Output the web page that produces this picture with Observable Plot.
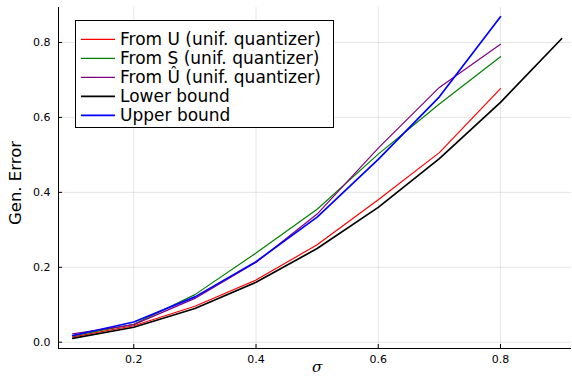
<!DOCTYPE html>
<html>
<head>
<meta charset="utf-8">
<script src="https://cdn.jsdelivr.net/npm/d3@7"></script>
<script src="https://cdn.jsdelivr.net/npm/@observablehq/plot@0.6"></script>
<style>
  html, body { margin: 0; padding: 0; background: #fff; }
  #wrap { position: relative; width: 572px; height: 376px; }
  #legend { position: absolute; left: 75px; top: 20px; }
</style>
</head>
<body>
<div id="wrap"></div>
<script>
// ---- data ----
const sigma      = [0.1, 0.2, 0.3, 0.4, 0.5, 0.6, 0.7, 0.8];
const sigmaBound = [0.1, 0.2, 0.3, 0.4, 0.5, 0.6, 0.7, 0.8, 0.9];
const fromU      = [0.014, 0.044, 0.096, 0.166, 0.260, 0.380, 0.506, 0.677];
const fromS      = [0.017, 0.048, 0.127, 0.238, 0.355, 0.502, 0.636, 0.762];
const fromUhat   = [0.022, 0.047, 0.117, 0.213, 0.342, 0.518, 0.680, 0.795];
const lowerBound = [0.010, 0.040, 0.090, 0.160, 0.250, 0.360, 0.490, 0.640, 0.810];
const upperBound = [0.018, 0.054, 0.121, 0.215, 0.334, 0.488, 0.655, 0.869];

const seriesNames  = ["From U (unif. quantizer)", "From S (unif. quantizer)", "From Û (unif. quantizer)", "Lower bound", "Upper bound"];
const seriesX      = [sigma, sigma, sigma, sigmaBound, sigma];
const seriesY      = [fromU, fromS, fromUhat, lowerBound, upperBound];
const seriesColors = ["#ff0000", "#008000", "#800080", "#000000", "#0000ff"];
const seriesWidths = [1.2, 1.2, 1.2, 1.7, 1.7];

const xTicks = [0.2, 0.4, 0.6, 0.8];
const yTicks = [0.0, 0.2, 0.4, 0.6, 0.8];
const xLabel = "σ";
const yLabel = "Gen. Error";

// ---- layout ----
const W = 572, H = 376;
const mL = 58, mR = 1, mT = 7, mB = 28;
const xDomain = [0.0768, 0.9162];
const yDomain = [-0.0168, 0.8934];
const frameW = W - mL - mR, frameH = H - mT - mB;

const tables = seriesNames.map((name, i) =>
  seriesX[i].map((x, j) => ({x, y: seriesY[i][j], name})));

const lineMarks = tables.map((t, i) =>
  Plot.line(t, {x: "x", y: "y", stroke: seriesColors[i], strokeWidth: seriesWidths[i]}));

const chart = Plot.plot({
  width: W, height: H,
  marginLeft: mL, marginRight: mR, marginTop: mT, marginBottom: mB,
  style: {fontFamily: "DejaVu Sans", fontSize: "11px", color: "#000", background: "#fff"},
  x: {domain: xDomain},
  y: {domain: yDomain},
  marks: [
    Plot.gridX(xTicks, {stroke: "#000", strokeOpacity: 0.1, strokeWidth: 1}),
    Plot.gridY(yTicks, {stroke: "#000", strokeOpacity: 0.1, strokeWidth: 1}),
    Plot.axisX(xTicks, {tickSize: 0, tickPadding: 7, tickFormat: d3.format(".1f"), label: null, fill: "#000"}),
    Plot.axisY(yTicks, {tickSize: 0, tickPadding: 8, tickFormat: d3.format(".1f"), label: null, fill: "#000"}),
    Plot.tickX(xTicks, {x: d => d, insetTop: frameH - 4, stroke: "#000", strokeWidth: 1}),
    Plot.tickY(yTicks, {y: d => d, insetRight: frameW - 4, stroke: "#000", strokeWidth: 1}),
    Plot.ruleX([xDomain[0]], {stroke: "#000", strokeWidth: 1}),
    Plot.ruleY([yDomain[0]], {stroke: "#000", strokeWidth: 1}),
    ...lineMarks,
    Plot.text([yLabel], {text: d => d, frameAnchor: "left", dx: -42.5, dy: 5, rotate: -90,
      fontSize: 16.5, fill: "#000", textAnchor: "middle", lineAnchor: "middle"}),
    Plot.text([xLabel], {text: d => d, frameAnchor: "bottom", dx: 2, dy: 19,
      fontSize: 15, fontStyle: "italic", fontFamily: "DejaVu Serif", fill: "#000", lineAnchor: "middle"})
  ]
});

const wrap = document.getElementById("wrap");
wrap.appendChild(chart);

// ---- legend overlay ----
const lgW = 258, lgH = 107, rowH = 19, row0 = 19.3;
const lg = d3.select(wrap).append("svg")
  .attr("id", "legend")
  .attr("width", lgW + 1).attr("height", lgH + 1)
  .style("font-family", "DejaVu Sans").style("font-size", "17px");
lg.append("rect").attr("x", 0.5).attr("y", 0.5).attr("width", lgW).attr("height", lgH)
  .attr("fill", "#fff").attr("stroke", "#000").attr("stroke-width", 1);
seriesNames.forEach((name, i) => {
  const cy = row0 + rowH * i;
  lg.append("line").attr("x1", 6).attr("x2", 40).attr("y1", cy).attr("y2", cy)
    .attr("stroke", seriesColors[i]).attr("stroke-width", seriesWidths[i]);
  lg.append("text").attr("x", 45).attr("y", cy).attr("dy", "0.35em")
    .attr("fill", "#000").text(name);
});
</script>
</body>
</html>
